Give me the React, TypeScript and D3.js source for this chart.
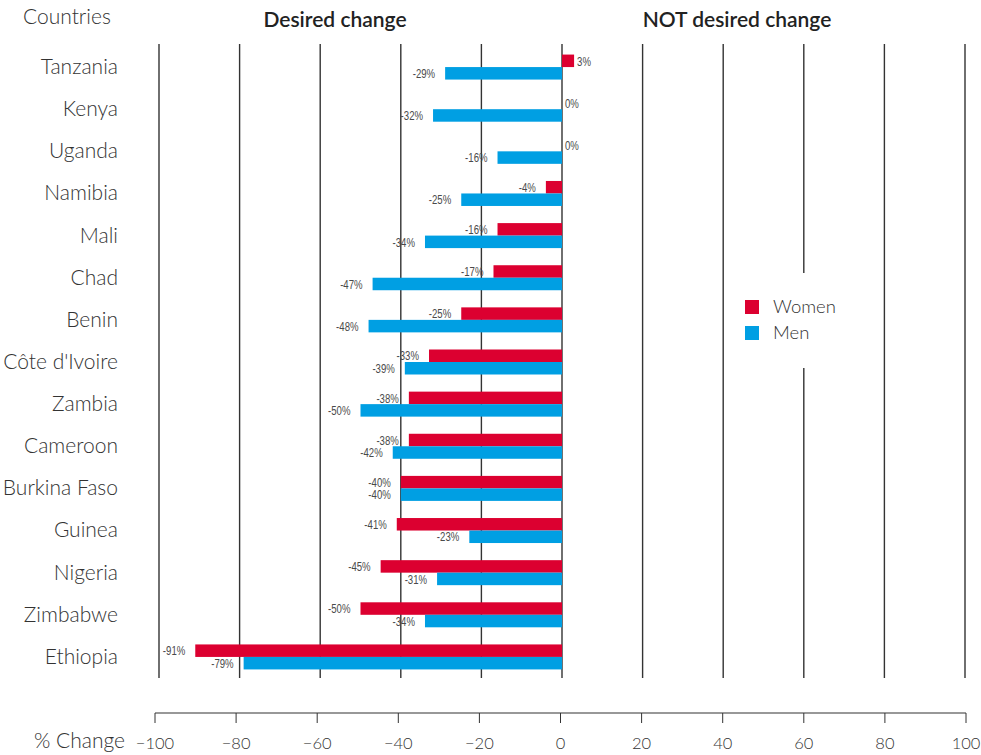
import React, { useEffect } from 'react';
import { scaleLinear, scaleBand, format } from 'd3';

const countries = [
  'Tanzania', 'Kenya', 'Uganda', 'Namibia', 'Mali', 'Chad', 'Benin', "Côte d'Ivoire",
  'Zambia', 'Cameroon', 'Burkina Faso', 'Guinea', 'Nigeria', 'Zimbabwe', 'Ethiopia',
];
const women = [3, 0, 0, -4, -16, -17, -25, -33, -38, -38, -40, -41, -45, -50, -91];
const men = [-29, -32, -16, -25, -34, -47, -48, -39, -50, -42, -40, -23, -31, -34, -79];
const axisTicks = [-100, -80, -60, -40, -20, 0, 20, 40, 60, 80, 100];

const RED = '#dc0030';
const BLUE = '#009fe3';
const FONT = 'Lato, "Open Sans", sans-serif';
const LABEL_FONT = '"Liberation Sans", Arial, sans-serif';

export default function App() {
  useEffect(() => {
    document.body.style.margin = '0';
  }, []);

  const width = 981;
  const height = 755;

  // grid / bars scale
  const x = scaleLinear().domain([-100, 100]).range([159, 965]);
  // bottom axis is drawn a touch wider than the grid
  const xAxis = scaleLinear().domain([-100, 100]).range([155, 966]);
  const y = scaleBand<string>().domain(countries).range([46, 678]);
  const barH = 12.5;
  const fmt = format('d');

  // legend box interrupts the 60 gridline
  const gapTop = 273;
  const gapBottom = 368;

  // narrow value label: squeezed Liberation Sans
  const valueLabel = (v: number, ly: number, key: string) => {
    const neg = v < 0;
    const lx = neg ? x(v) - 10 : x(v) + 3;
    return (
      <text
        key={key}
        transform={`translate(${lx},${ly}) scale(0.74,1)`}
        dy="0.36em"
        textAnchor={neg ? 'end' : 'start'}
        fontFamily={LABEL_FONT}
        fontSize={13}
        fill="#4a4a4a"
      >{v}%</text>
    );
  };

  return (
    <svg width={width} height={height} style={{ display: 'block', background: '#fff' }}>
      {/* headers */}
      <text x={23} y={24} fontFamily={FONT} fontSize={21} fill="#333" fontWeight={300}>Countries</text>
      <text x={335} y={27} textAnchor="middle" fontFamily={FONT} fontSize={21} fontWeight={600} fill="#222">Desired change</text>
      <text x={737} y={27} textAnchor="middle" fontFamily={FONT} fontSize={21} fontWeight={600} fill="#222">NOT desired change</text>

      {/* vertical gridlines */}
      {axisTicks.map((t) =>
        t === 60 ? (
          <g key={t}>
            <line x1={x(t)} x2={x(t)} y1={44} y2={gapTop} stroke="#333" strokeWidth={1.4} />
            <line x1={x(t)} x2={x(t)} y1={gapBottom} y2={678} stroke="#333" strokeWidth={1.4} />
          </g>
        ) : (
          <line key={t} x1={x(t)} x2={x(t)} y1={44} y2={678} stroke="#333" strokeWidth={1.4} />
        )
      )}

      {/* bars */}
      {countries.map((c, i) => {
        const cy = (y(c) as number) + y.bandwidth() / 2;
        const w = women[i];
        const m = men[i];
        return (
          <g key={c}>
            <text x={118} y={cy} dy="0.33em" textAnchor="end" fontFamily={FONT} fontSize={21} fontWeight={300} fill="#333">{c}</text>
            <rect x={Math.min(x(0), x(w))} y={cy - barH} width={Math.abs(x(w) - x(0))} height={barH} fill={RED} />
            <rect x={Math.min(x(0), x(m))} y={cy} width={Math.abs(x(m) - x(0))} height={barH} fill={BLUE} />
            {valueLabel(w, cy - barH / 2, 'w')}
            {valueLabel(m, cy + barH / 2, 'm')}
          </g>
        );
      })}

      {/* legend */}
      <rect x={745} y={300} width={14} height={14} fill={RED} />
      <text x={773} y={307} dy="0.35em" fontFamily={FONT} fontSize={18.5} fontWeight={300} fill="#333">Women</text>
      <rect x={745} y={326} width={14} height={14} fill={BLUE} />
      <text x={773} y={333} dy="0.35em" fontFamily={FONT} fontSize={18.5} fontWeight={300} fill="#333">Men</text>

      {/* bottom axis */}
      <g>
        <line x1={xAxis(-100)} x2={xAxis(100)} y1={713} y2={713} stroke="#333" strokeWidth={1.2} />
        {axisTicks.map((t) => (
          <g key={t} transform={`translate(${xAxis(t)},713)`}>
            <line y1={0} y2={10} stroke="#333" strokeWidth={1} />
            <text y={36} textAnchor="middle" fontFamily={FONT} fontSize={16.5} fontWeight={300} fill="#333">
              {fmt(t).replace('-', '\u2212')}
            </text>
          </g>
        ))}
        <text x={125} y={748} textAnchor="end" fontFamily={FONT} fontSize={21} fontWeight={300} fill="#333">% Change</text>
      </g>
    </svg>
  );
}
